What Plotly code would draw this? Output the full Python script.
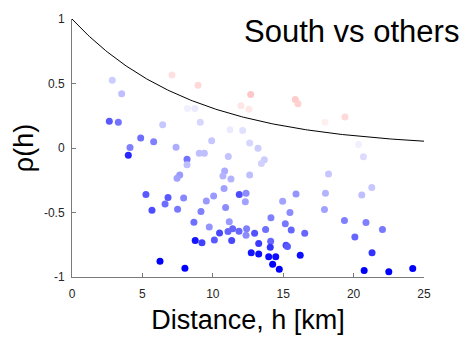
import numpy as np
import plotly.graph_objects as go

# distance h [km]
h = [2.86, 3.53, 2.65, 3.29, 6.44, 4.88, 5.80, 4.12, 7.39, 4.00,
     8.17, 8.17, 7.10, 8.20, 8.73, 8.95, 12.69, 12.00, 12.57, 15.86,
     16.05, 9.11, 11.22, 12.12, 9.92, 12.62, 13.21, 9.04, 9.40, 11.10,
     13.66, 13.45, 19.39, 17.97, 20.35, 20.70, 7.65, 7.46, 5.25, 6.82,
     7.93, 6.61, 5.68, 7.50, 8.66, 8.75, 6.25, 8.02, 10.84, 10.72,
     11.29, 12.62, 10.80, 11.88, 12.36, 12.31, 10.06, 9.54, 10.91, 9.16,
     11.17, 9.75, 10.48, 11.08, 11.41, 11.86, 12.40, 12.36, 12.97, 13.75,
     14.13, 14.96, 15.91, 15.48, 15.15, 15.57, 16.53, 9.23, 10.11, 11.34,
     13.26, 14.11, 14.08, 15.20, 15.30, 12.73, 13.26, 13.97, 14.47, 14.25,
     14.72, 16.21, 18.22, 18.00, 17.93, 20.58, 21.29, 19.35, 20.88, 22.05,
     20.09, 21.31, 20.75, 22.50, 24.20]
# correlation rho(h)
rho = [0.526, 0.42, 0.207, 0.20, 0.18, 0.077, 0.049, 0.003, 0.005, -0.056,
       -0.087, -0.13, 0.565, 0.307, 0.307, 0.486, 0.414, 0.327, 0.30, 0.376,
       0.343, 0.20, 0.141, 0.136, 0.057, 0.038, -0.002, -0.041, -0.041, -0.066,
       -0.092, -0.12, 0.24, 0.20, 0.028, -0.068, -0.209, -0.235, -0.36, -0.383,
       -0.388, -0.434, -0.483, -0.475, -0.575, -0.717, -0.878, -0.932, -0.179, -0.217,
       -0.24, -0.209, -0.314, -0.36, -0.35, -0.416, -0.373, -0.41, -0.462, -0.493,
       -0.572, -0.613, -0.659, -0.648, -0.625, -0.646, -0.625, -0.677, -0.661, -0.631,
       -0.541, -0.413, -0.357, -0.50, -0.587, -0.636, -0.661, -0.735, -0.713, -0.717,
       -0.74, -0.723, -0.769, -0.753, -0.763, -0.812, -0.822, -0.843, -0.843, -0.901,
       -0.94, -0.832, -0.202, -0.35, -0.477, -0.365, -0.307, -0.562, -0.577, -0.631,
       -0.69, -0.812, -0.95, -0.96, -0.935]
# colour value of each point (-1 blue ... 0 white ... +1 red)
cval = [-0.20, -0.25, -0.65, -0.55, -0.22, -0.57, -0.50, -0.50, -0.32, -0.85,
        -0.55, -0.25, 0.12, -0.06, -0.08, 0.15, 0.22, 0.10, 0.09, 0.20,
        0.18, -0.16, -0.08, -0.12, -0.22, -0.16, -0.20, -0.25, -0.25, -0.24,
        -0.20, -0.18, 0.15, 0.06, -0.06, -0.14, -0.40, -0.37, -0.65, -0.65,
        -0.47, -0.57, -0.70, -0.53, -0.57, -0.92, -1.00, -1.00, -0.33, -0.30,
        -0.30, -0.25, -0.37, -0.70, -0.45, -0.37, -0.40, -0.40, -0.45, -0.50,
        -0.40, -0.42, -0.72, -0.60, -0.60, -0.60, -0.50, -0.45, -0.68, -0.57,
        -0.50, -0.37, -0.42, -0.45, -0.53, -0.60, -0.60, -0.75, -0.65, -0.72,
        -0.77, -0.60, -0.80, -0.72, -0.65, -0.92, -0.95, -0.95, -0.95, -1.00,
        -1.00, -0.95, -0.22, -0.30, -0.37, -0.25, -0.22, -0.50, -0.50, -0.53,
        -0.60, -0.80, -1.00, -1.00, -1.00]

corr_length = 8.5
h_model = np.linspace(0, 25, 200)
rho_model = np.exp(-h_model / corr_length)

x_ticks = [0, 5, 10, 15, 20, 25]
y_ticks = [-1, -0.5, 0, 0.5, 1]
y_ticktext = ["-1", "-0.5", "0", "0.5", "1"]

FONT = "Liberation Sans, Arial, Helvetica, sans-serif"

fig = go.Figure()
fig.add_trace(go.Scatter(
    x=h, y=rho, mode="markers",
    marker=dict(size=7, color=cval, cmin=-1, cmax=1,
                colorscale=[[0, "rgb(0,0,255)"], [0.5, "rgb(255,255,255)"], [1, "rgb(255,0,0)"]],
                line=dict(width=0)),
    showlegend=False, hoverinfo="skip"))
fig.add_trace(go.Scatter(
    x=h_model, y=rho_model, mode="lines",
    line=dict(color="black", width=1),
    showlegend=False, hoverinfo="skip"))

axis_common = dict(showgrid=False, zeroline=False, showline=True, mirror=False,
                   linecolor="#7a7a7a", linewidth=1, ticks="inside", ticklen=4,
                   tickcolor="#7a7a7a", tickwidth=1,
                   tickfont=dict(family=FONT, size=12, color="#262626"))

fig.update_xaxes(range=[0, 25], tickvals=x_ticks,
                 title=dict(text="Distance, h [km]", font=dict(family=FONT, size=27, color="black"), standoff=9),
                 ticklabelstandoff=6, **axis_common)
fig.update_yaxes(range=[-1, 1], tickvals=y_ticks, ticktext=y_ticktext,
                 title=dict(text="ρ(h)", font=dict(family=FONT, size=27, color="black"), standoff=2),
                 ticklabelstandoff=4, **axis_common)

fig.add_annotation(text="South vs others", xref="paper", yref="paper",
                   x=1.105, y=0.95, xanchor="right", yanchor="middle", showarrow=False,
                   font=dict(family=FONT, size=31, color="black"))

fig.update_layout(width=465, height=341, margin=dict(l=72, r=41, t=17, b=63),
                  paper_bgcolor="white", plot_bgcolor="white")

fig.write_html("out.html")
